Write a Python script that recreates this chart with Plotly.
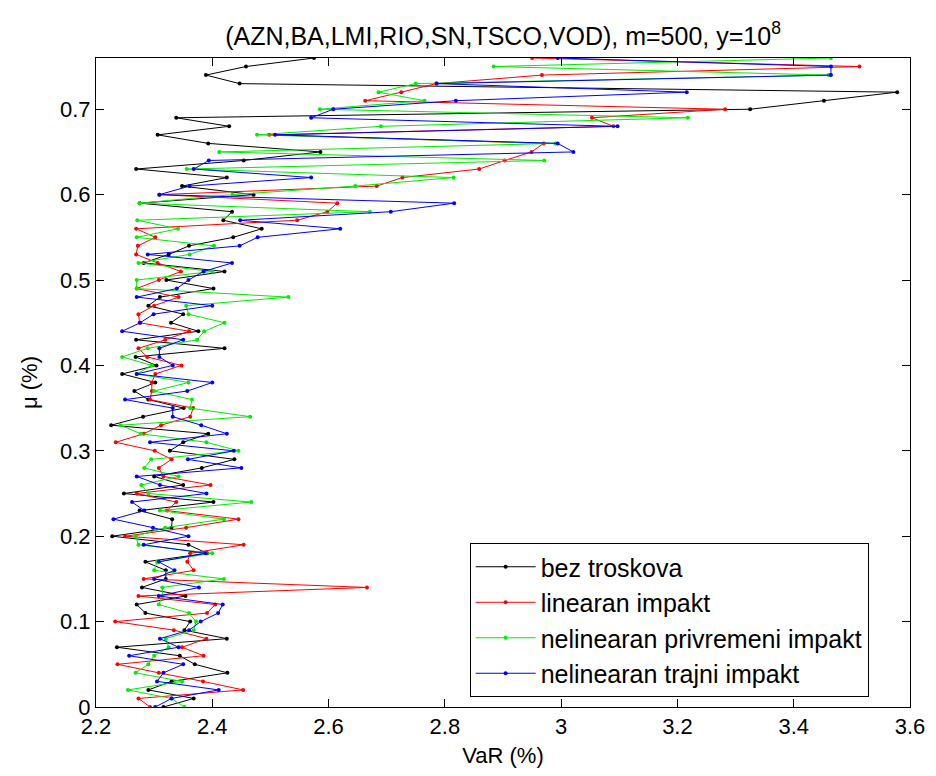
import plotly.graph_objects as go

mu = [k / 100 for k in range(77)]

bez_troskova = [2.316, 2.368, 2.290, 2.330, 2.426, 2.370, 2.344, 2.236, 2.425, 2.352,
                2.362, 2.285, 2.270, 2.354, 2.279, 2.320, 2.320, 2.285, 2.391, 2.359,
                2.228, 2.330, 2.331, 2.275, 2.402, 2.248, 2.350, 2.300, 2.382, 2.438,
                2.327, 2.350, 2.393, 2.226, 2.281, 2.351, 2.290, 2.266, 2.302, 2.245,
                2.304, 2.268, 2.421, 2.269, 2.376, 2.329, 2.350, 2.290, 2.310, 2.402,
                2.321, 2.421, 2.282, 2.325, 2.360, 2.436, 2.485, 2.419, 2.434, 2.275,
                2.471, 2.348, 2.425, 2.269, 2.454, 2.586, 2.393, 2.306, 2.429, 2.338,
                3.325, 3.452, 3.578, 2.447, 2.389, 2.458, 2.575]

linearan = [2.293, 2.273, 2.453, 2.384, 2.308, 2.237, 2.385, 2.348, 2.390, 2.334,
            2.233, 2.391, 2.405, 2.273, 2.666, 2.282, 2.368, 2.357, 2.362, 2.454,
            2.250, 2.355, 2.445, 2.322, 2.338, 2.270, 2.397, 2.316, 2.308, 2.330,
            2.301, 2.234, 2.282, 2.312, 2.362, 2.367, 2.293, 2.296, 2.296, 2.302,
            2.347, 2.288, 2.273, 2.319, 2.360, 2.275, 2.273, 2.300, 2.342, 2.270,
            2.308, 2.346, 2.306, 2.269, 2.272, 2.302, 2.269, 2.546, 2.598, 2.615,
            2.309, 2.683, 2.727, 2.859, 2.903, 2.949, 2.970, 2.498, 3.090, 3.053,
            3.282, 2.663, 2.725, 2.785, 2.967, 3.513, 2.950]

nelin_privremeni = [2.352, 2.330, 2.255, 2.348, 2.268, 2.290, 2.300, 2.325, 2.320, 2.368,
                    2.372, 2.360, 2.308, 2.314, 2.314, 2.420, 2.300, 2.305, 2.400, 2.273,
                    2.268, 2.319, 2.420, 2.310, 2.467, 2.290, 2.278, 2.342, 2.283, 2.295,
                    2.445, 2.390, 2.277, 2.242, 2.465, 2.362, 2.365, 2.300, 2.359, 2.270,
                    2.296, 2.245, 2.289, 2.374, 2.386, 2.421, 2.359, 2.355, 2.531, 2.270,
                    2.270, 2.400, 2.273, 2.361, 2.403, 2.270, 2.341, 2.271, 2.671, 2.275,
                    2.435, 2.646, 2.815, 2.356, 2.971, 2.412, 2.990, 2.477, 2.690, 3.218,
                    2.585, 2.765, 2.686, 2.750, 3.460, 2.884, 3.464]

nelin_trajni = [2.302, 2.330, 2.411, 2.305, 2.316, 2.350, 2.257, 2.342, 2.310, 2.360,
                2.380, 2.410, 2.418, 2.308, 2.377, 2.300, 2.335, 2.308, 2.388, 2.282,
                2.359, 2.298, 2.230, 2.283, 2.262, 2.390, 2.310, 2.270, 2.450, 2.358,
                2.437, 2.293, 2.425, 2.381, 2.332, 2.332, 2.250, 2.357, 2.400, 2.270,
                2.332, 2.309, 2.309, 2.350, 2.245, 2.276, 2.299, 2.400, 2.270, 2.339,
                2.359, 2.385, 2.434, 2.289, 2.447, 2.478, 2.620, 2.448, 2.707, 2.816,
                2.309, 2.361, 2.570, 2.368, 2.394, 3.021, 2.994, 2.508, 3.097, 2.570,
                2.608, 2.819, 3.216, 2.786, 3.464, 3.464, 2.994]

series = [
    ("bez troskova", bez_troskova, "#000000"),
    ("linearan impakt", linearan, "#ff0000"),
    ("nelinearan privremeni impakt", nelin_privremeni, "#00ee00"),
    ("nelinearan trajni impakt", nelin_trajni, "#0000ff"),
]

x_ticks = [2.2, 2.4, 2.6, 2.8, 3.0, 3.2, 3.4, 3.6]
x_tick_labels = ["2.2", "2.4", "2.6", "2.8", "3", "3.2", "3.4", "3.6"]
y_ticks = [0, 0.1, 0.2, 0.3, 0.4, 0.5, 0.6, 0.7]
y_tick_labels = ["0", "0.1", "0.2", "0.3", "0.4", "0.5", "0.6", "0.7"]

fig = go.Figure()
for name, vals, col in series:
    fig.add_trace(go.Scatter(
        x=vals, y=mu, mode="lines+markers", name=name,
        line=dict(color=col, width=1),
        marker=dict(color=col, size=4),
        cliponaxis=True,
    ))

FONT = "Liberation Sans, Arial, sans-serif"
fig.update_layout(
    width=920, height=760,
    paper_bgcolor="white", plot_bgcolor="white",
    margin=dict(l=88, r=18, t=50, b=61),
    font=dict(family=FONT, size=22, color="black"),
    title=dict(text="(AZN,BA,LMI,RIO,SN,TSCO,VOD), m=500, y=10<sup>8</sup>",
               x=0.5, xanchor="center", xref="paper",
               y=1 - 28 / 760, yref="container", yanchor="middle",
               font=dict(family=FONT, size=25, color="black")),
    showlegend=True,
    legend=dict(x=0.459, y=0.0154, xanchor="left", yanchor="bottom",
                bgcolor="white", bordercolor="black", borderwidth=1,
                font=dict(family=FONT, size=25, color="black"),
                itemwidth=60, tracegroupgap=0),
)
fig.update_xaxes(
    range=[2.2, 3.6], tickvals=x_ticks, ticktext=x_tick_labels,
    showline=True, linecolor="black", linewidth=1, mirror="ticks",
    ticks="inside", ticklen=8, tickcolor="black", showgrid=False, zeroline=False,
    automargin=False, ticklabeloverflow="allow",
    title=dict(text="VaR (%)", standoff=14, font=dict(family=FONT, size=22)),
)
fig.update_yaxes(
    range=[0, 0.76], tickvals=y_ticks, ticktext=y_tick_labels,
    showline=True, linecolor="black", linewidth=1, mirror="ticks",
    ticks="inside", ticklen=8, tickcolor="black", showgrid=False, zeroline=False,
    automargin=False, ticklabeloverflow="allow",
    title=dict(text="μ (%)", standoff=16, font=dict(family=FONT, size=22)),
)

fig.write_html("out.html")
